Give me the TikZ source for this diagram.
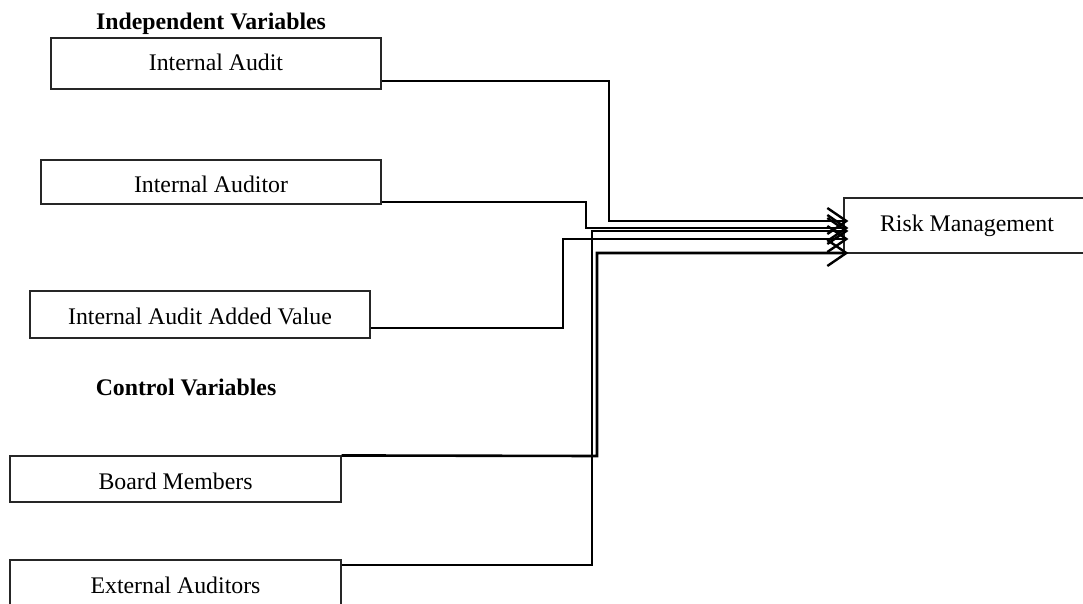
\documentclass[tikz,border=0pt]{standalone}
\usepackage{fontspec}
\setmainfont{Liberation Serif}
\usetikzlibrary{arrows.meta}
\begin{document}
\begin{tikzpicture}[x=1pt,y=-1pt,
  every node/.style={font=\fontsize{23.8}{28}\selectfont},
  box/.style={draw=black!85, line width=1.1pt, inner sep=0pt, text height=33pt},
  heading/.style={font=\fontsize{23.8}{28}\selectfont\bfseries, anchor=base, inner sep=0pt},
  conn/.style={draw=black, line width=2.6pt, line join=miter,
    -{Straight Barb[length=19pt,width=26pt,line width=2.4pt]}}
]
\clip (0,0) rectangle (1083,604);
\fill[white] (0,0) rectangle (1083,604);
% headings
\node[heading] (hInd) at (211,30) {Independent Variables};
\node[heading] (hCtl) at (186,395) {Control Variables};
% boxes
\node[box, minimum width=330pt, minimum height=51pt, text depth=18pt] (IA) at (216,63.5) {Internal Audit};
\node[box, minimum width=340pt, minimum height=44pt, text depth=11pt] (IAr) at (211,182) {Internal Auditor};
\node[box, minimum width=340pt, minimum height=47pt, text depth=14pt] (AV) at (200,314.5) {Internal Audit Added Value};
\node[box, minimum width=331pt, minimum height=46pt, text depth=13pt] (BM) at (175.5,479) {Board Members};
\node[box, minimum width=331pt, minimum height=46pt, text depth=13pt] (EA) at (175.5,583) {External Auditors};
\node[box, minimum width=246pt, minimum height=55pt, text depth=22pt] (RM) at (967,225.5) {Risk Management};
% connectors
\draw[conn] (IA.east |- 0,81) -- (609,81) -- (609,221) -- ([xshift=5pt]RM.west |- 0,221);
\draw[conn] (IAr.east |- 0,202) -- (586,202) -- (586,228) -- ([xshift=5pt]RM.west |- 0,228);
\draw[conn] (AV.east |- 0,328) -- (563,328) -- (563,239) -- ([xshift=5pt]RM.west |- 0,239);
\draw[conn] (BM.north east) -- (597,456) -- (597,253) -- ([xshift=5pt]RM.west |- 0,253);
\draw[conn] (EA.east |- 0,565) -- (592,565) -- (592,231) -- ([xshift=5pt]RM.west |- 0,231);
\end{tikzpicture}
\end{document}
